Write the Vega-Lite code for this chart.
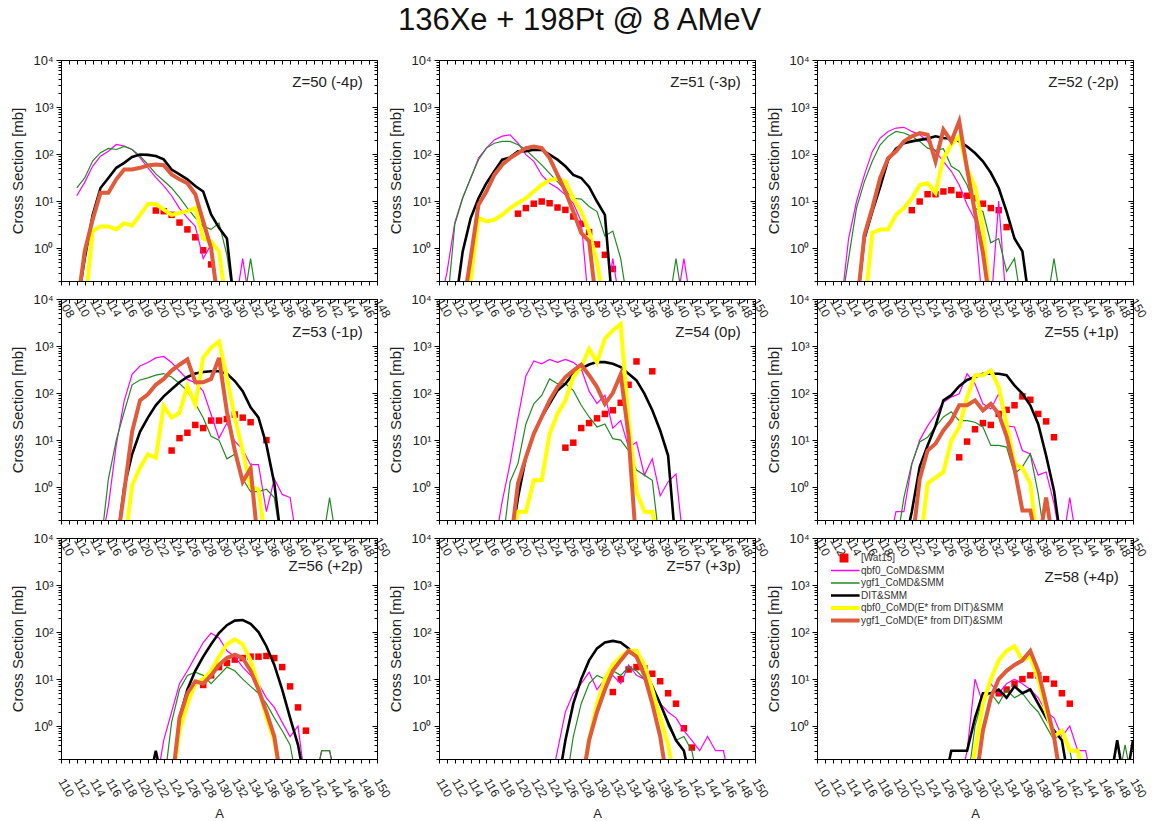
{
"$schema":"https://vega.github.io/schema/vega-lite/v6.json",
"padding":{"left":10,"top":4,"right":5,"bottom":5},
"background":"white",
"title":{"text":"136Xe + 198Pt @ 8 AMeV","fontSize":31,"fontWeight":"normal","color":"#111","anchor":"middle","offset":17},
"datasets":{
"p50":[
{"s":"M","A":110,"v":13},{"s":"M","A":111,"v":25},{"s":"M","A":112,"v":55},{"s":"M","A":113,"v":90},{"s":"M","A":114,"v":115},{"s":"M","A":115,"v":160},{"s":"M","A":116,"v":148},{"s":"M","A":117,"v":125},{"s":"M","A":118,"v":84},{"s":"M","A":119,"v":51},{"s":"M","A":120,"v":32},{"s":"M","A":121,"v":21},{"s":"M","A":122,"v":13},{"s":"M","A":123,"v":7},{"s":"M","A":124,"v":4.4},{"s":"M","A":125,"v":2.9},{"s":"M","A":126,"v":0.6},{"s":"M","A":127,"v":1.2},{"s":"M","A":128,"v":0.05},{"s":"M","A":130,"v":0.05},{"s":"M","A":131,"v":0.6},{"s":"M","A":132,"v":0.05},
{"s":"G","A":110,"v":19},{"s":"G","A":111,"v":31},{"s":"G","A":112,"v":71},{"s":"G","A":113,"v":107},{"s":"G","A":114,"v":132},{"s":"G","A":115,"v":125},{"s":"G","A":116,"v":145},{"s":"G","A":117,"v":125},{"s":"G","A":118,"v":91},{"s":"G","A":119,"v":60},{"s":"G","A":120,"v":38},{"s":"G","A":121,"v":27},{"s":"G","A":122,"v":19},{"s":"G","A":123,"v":12},{"s":"G","A":124,"v":7.1},{"s":"G","A":125,"v":4.4},{"s":"G","A":126,"v":2.9},{"s":"G","A":127,"v":2.5},{"s":"G","A":128,"v":3.4},{"s":"G","A":129,"v":0.72},{"s":"G","A":130,"v":0.05},{"s":"G","A":131,"v":0.05},{"s":"G","A":132,"v":0.6},{"s":"G","A":133,"v":0.05},
{"s":"D","A":110,"v":0.05},{"s":"D","A":111,"v":0.6},{"s":"D","A":112,"v":5},{"s":"D","A":113,"v":19},{"s":"D","A":114,"v":31},{"s":"D","A":115,"v":51},{"s":"D","A":116,"v":65},{"s":"D","A":117,"v":87},{"s":"D","A":118,"v":98},{"s":"D","A":119,"v":96},{"s":"D","A":120,"v":91},{"s":"D","A":121,"v":77},{"s":"D","A":122,"v":47},{"s":"D","A":123,"v":37},{"s":"D","A":124,"v":29},{"s":"D","A":125,"v":21},{"s":"D","A":126,"v":16},{"s":"D","A":127,"v":5.2},{"s":"D","A":128,"v":2.7},{"s":"D","A":129,"v":1.6},{"s":"D","A":130,"v":0.05},
{"s":"Y","A":111,"v":0.05},{"s":"Y","A":112,"v":2.3},{"s":"Y","A":113,"v":2.9},{"s":"Y","A":114,"v":2.9},{"s":"Y","A":115,"v":2.5},{"s":"Y","A":116,"v":3.4},{"s":"Y","A":117,"v":3},{"s":"Y","A":118,"v":5.1},{"s":"Y","A":119,"v":8.7},{"s":"Y","A":120,"v":8.7},{"s":"Y","A":121,"v":6.6},{"s":"Y","A":122,"v":5.1},{"s":"Y","A":123,"v":5.6},{"s":"Y","A":124,"v":6.1},{"s":"Y","A":125,"v":7.1},{"s":"Y","A":126,"v":1.6},{"s":"Y","A":127,"v":1.4},{"s":"Y","A":128,"v":0.85},{"s":"Y","A":129,"v":0.05},
{"s":"O","A":110,"v":0.05},{"s":"O","A":111,"v":0.85},{"s":"O","A":112,"v":4},{"s":"O","A":113,"v":15},{"s":"O","A":114,"v":15},{"s":"O","A":115,"v":29},{"s":"O","A":116,"v":47},{"s":"O","A":117,"v":47},{"s":"O","A":118,"v":51},{"s":"O","A":119,"v":57},{"s":"O","A":120,"v":60},{"s":"O","A":121,"v":58},{"s":"O","A":122,"v":37},{"s":"O","A":123,"v":29},{"s":"O","A":124,"v":24},{"s":"O","A":125,"v":14},{"s":"O","A":126,"v":3.7},{"s":"O","A":127,"v":1},{"s":"O","A":128,"v":0.05},
{"s":"W","A":120,"v":6.3},{"s":"W","A":121,"v":6.1},{"s":"W","A":122,"v":5.1},{"s":"W","A":123,"v":3.5},{"s":"W","A":124,"v":2.5},{"s":"W","A":125,"v":1.7},{"s":"W","A":126,"v":0.9},{"s":"W","A":127,"v":0.45}
],
"p51":[
{"s":"M","A":110,"v":0.05},{"s":"M","A":111,"v":0.3},{"s":"M","A":112,"v":3.5},{"s":"M","A":113,"v":12},{"s":"M","A":114,"v":30},{"s":"M","A":115,"v":82},{"s":"M","A":116,"v":134},{"s":"M","A":117,"v":200},{"s":"M","A":118,"v":240},{"s":"M","A":119,"v":257},{"s":"M","A":120,"v":170},{"s":"M","A":121,"v":97},{"s":"M","A":122,"v":70},{"s":"M","A":123,"v":36},{"s":"M","A":124,"v":24},{"s":"M","A":125,"v":19},{"s":"M","A":126,"v":13.6},{"s":"M","A":127,"v":9},{"s":"M","A":128,"v":3.7},{"s":"M","A":129,"v":0.05},{"s":"M","A":131,"v":0.05},{"s":"M","A":132,"v":0.6},{"s":"M","A":133,"v":0.05},{"s":"M","A":140,"v":0.05},{"s":"M","A":141,"v":0.6},{"s":"M","A":142,"v":0.05},
{"s":"G","A":111,"v":0.05},{"s":"G","A":112,"v":3.2},{"s":"G","A":113,"v":11.5},{"s":"G","A":114,"v":31},{"s":"G","A":115,"v":76},{"s":"G","A":116,"v":134},{"s":"G","A":117,"v":170},{"s":"G","A":118,"v":186},{"s":"G","A":119,"v":186},{"s":"G","A":120,"v":158},{"s":"G","A":121,"v":123},{"s":"G","A":122,"v":85},{"s":"G","A":123,"v":59},{"s":"G","A":124,"v":39},{"s":"G","A":125,"v":26},{"s":"G","A":126,"v":17},{"s":"G","A":127,"v":11.5},{"s":"G","A":128,"v":11},{"s":"G","A":129,"v":7.7},{"s":"G","A":130,"v":6},{"s":"G","A":131,"v":1.8},{"s":"G","A":132,"v":2.3},{"s":"G","A":133,"v":0.6},{"s":"G","A":134,"v":0.05},{"s":"G","A":139,"v":0.05},{"s":"G","A":140,"v":0.6},{"s":"G","A":141,"v":0.05},
{"s":"D","A":112,"v":0.05},{"s":"D","A":113,"v":0.85},{"s":"D","A":114,"v":4.3},{"s":"D","A":115,"v":11.5},{"s":"D","A":116,"v":24},{"s":"D","A":117,"v":43},{"s":"D","A":118,"v":76},{"s":"D","A":119,"v":85},{"s":"D","A":120,"v":115},{"s":"D","A":121,"v":115},{"s":"D","A":122,"v":123},{"s":"D","A":123,"v":123},{"s":"D","A":124,"v":97},{"s":"D","A":125,"v":76},{"s":"D","A":126,"v":55},{"s":"D","A":127,"v":36},{"s":"D","A":128,"v":31},{"s":"D","A":129,"v":20},{"s":"D","A":130,"v":9.8},{"s":"D","A":131,"v":5.1},{"s":"D","A":132,"v":0.05},
{"s":"Y","A":113,"v":0.05},{"s":"Y","A":114,"v":0.2},{"s":"Y","A":115,"v":4.4},{"s":"Y","A":116,"v":3.7},{"s":"Y","A":117,"v":4},{"s":"Y","A":118,"v":5.1},{"s":"Y","A":119,"v":7.1},{"s":"Y","A":120,"v":9.1},{"s":"Y","A":121,"v":11.5},{"s":"Y","A":122,"v":16},{"s":"Y","A":123,"v":22},{"s":"Y","A":124,"v":28},{"s":"Y","A":125,"v":30},{"s":"Y","A":126,"v":26},{"s":"Y","A":127,"v":11.5},{"s":"Y","A":128,"v":6},{"s":"Y","A":129,"v":2.3},{"s":"Y","A":130,"v":0.5},{"s":"Y","A":131,"v":0.05},
{"s":"O","A":113,"v":0.05},{"s":"O","A":114,"v":0.6},{"s":"O","A":115,"v":8.4},{"s":"O","A":116,"v":16},{"s":"O","A":117,"v":36},{"s":"O","A":118,"v":59},{"s":"O","A":119,"v":82},{"s":"O","A":120,"v":105},{"s":"O","A":121,"v":134},{"s":"O","A":122,"v":145},{"s":"O","A":123,"v":134},{"s":"O","A":124,"v":82},{"s":"O","A":125,"v":36},{"s":"O","A":126,"v":16},{"s":"O","A":127,"v":6},{"s":"O","A":128,"v":2.1},{"s":"O","A":129,"v":1.4},{"s":"O","A":130,"v":0.05},
{"s":"W","A":120,"v":5.4},{"s":"W","A":121,"v":7.1},{"s":"W","A":122,"v":8.8},{"s":"W","A":123,"v":9.8},{"s":"W","A":124,"v":9},{"s":"W","A":125,"v":7.3},{"s":"W","A":126,"v":6.5},{"s":"W","A":127,"v":4.7},{"s":"W","A":128,"v":3.3},{"s":"W","A":129,"v":2.2},{"s":"W","A":130,"v":1.2},{"s":"W","A":131,"v":0.72},{"s":"W","A":132,"v":0.36}
],
"p52":[
{"s":"M","A":113,"v":0.05},{"s":"M","A":114,"v":1.6},{"s":"M","A":115,"v":9.8},{"s":"M","A":116,"v":36},{"s":"M","A":117,"v":114},{"s":"M","A":118,"v":219},{"s":"M","A":119,"v":303},{"s":"M","A":120,"v":357},{"s":"M","A":121,"v":370},{"s":"M","A":122,"v":303},{"s":"M","A":123,"v":257},{"s":"M","A":124,"v":186},{"s":"M","A":125,"v":114},{"s":"M","A":126,"v":70},{"s":"M","A":127,"v":43},{"s":"M","A":128,"v":22},{"s":"M","A":129,"v":8.4},{"s":"M","A":130,"v":4},{"s":"M","A":131,"v":0.05},{"s":"M","A":132,"v":0.05},{"s":"M","A":133,"v":10},{"s":"M","A":134,"v":0.05},
{"s":"G","A":113,"v":0.05},{"s":"G","A":114,"v":0.6},{"s":"G","A":115,"v":7.1},{"s":"G","A":116,"v":26},{"s":"G","A":117,"v":70},{"s":"G","A":118,"v":158},{"s":"G","A":119,"v":238},{"s":"G","A":120,"v":303},{"s":"G","A":121,"v":280},{"s":"G","A":122,"v":238},{"s":"G","A":123,"v":186},{"s":"G","A":124,"v":134},{"s":"G","A":125,"v":120},{"s":"G","A":126,"v":130},{"s":"G","A":127,"v":55},{"s":"G","A":128,"v":43},{"s":"G","A":129,"v":22},{"s":"G","A":130,"v":7},{"s":"G","A":131,"v":6},{"s":"G","A":132,"v":1.3},{"s":"G","A":133,"v":1.6},{"s":"G","A":134,"v":0.32},{"s":"G","A":135,"v":0.6},{"s":"G","A":136,"v":0.05},{"s":"G","A":139,"v":0.05},{"s":"G","A":140,"v":0.6},{"s":"G","A":141,"v":0.05},
{"s":"D","A":115,"v":0.05},{"s":"D","A":116,"v":1.6},{"s":"D","A":117,"v":6},{"s":"D","A":118,"v":20},{"s":"D","A":119,"v":75},{"s":"D","A":120,"v":130},{"s":"D","A":121,"v":170},{"s":"D","A":122,"v":186},{"s":"D","A":123,"v":200},{"s":"D","A":124,"v":213},{"s":"D","A":125,"v":238},{"s":"D","A":126,"v":219},{"s":"D","A":127,"v":213},{"s":"D","A":128,"v":186},{"s":"D","A":129,"v":145},{"s":"D","A":130,"v":105},{"s":"D","A":131,"v":70},{"s":"D","A":132,"v":40},{"s":"D","A":133,"v":19},{"s":"D","A":134,"v":6},{"s":"D","A":135,"v":1.6},{"s":"D","A":136,"v":0.85},{"s":"D","A":137,"v":0.05},
{"s":"Y","A":116,"v":0.05},{"s":"Y","A":117,"v":2.1},{"s":"Y","A":118,"v":2.5},{"s":"Y","A":119,"v":2.5},{"s":"Y","A":120,"v":5.1},{"s":"Y","A":121,"v":7.1},{"s":"Y","A":122,"v":11.5},{"s":"Y","A":123,"v":22},{"s":"Y","A":124,"v":24},{"s":"Y","A":125,"v":15},{"s":"Y","A":126,"v":82},{"s":"Y","A":127,"v":158},{"s":"Y","A":128,"v":238},{"s":"Y","A":129,"v":50},{"s":"Y","A":130,"v":20},{"s":"Y","A":131,"v":2.7},{"s":"Y","A":132,"v":0.05},
{"s":"O","A":115,"v":0.05},{"s":"O","A":116,"v":1.9},{"s":"O","A":117,"v":7.1},{"s":"O","A":118,"v":31},{"s":"O","A":119,"v":82},{"s":"O","A":120,"v":114},{"s":"O","A":121,"v":186},{"s":"O","A":122,"v":238},{"s":"O","A":123,"v":280},{"s":"O","A":124,"v":257},{"s":"O","A":125,"v":70},{"s":"O","A":126,"v":330},{"s":"O","A":127,"v":186},{"s":"O","A":128,"v":500},{"s":"O","A":129,"v":48},{"s":"O","A":130,"v":5.7},{"s":"O","A":131,"v":0.8},{"s":"O","A":132,"v":0.05},
{"s":"W","A":122,"v":6.4},{"s":"W","A":123,"v":9.8},{"s":"W","A":124,"v":14},{"s":"W","A":125,"v":14},{"s":"W","A":126,"v":16},{"s":"W","A":127,"v":17},{"s":"W","A":128,"v":13.6},{"s":"W","A":129,"v":13},{"s":"W","A":130,"v":11.5},{"s":"W","A":131,"v":8.8},{"s":"W","A":132,"v":7.1},{"s":"W","A":133,"v":6.4},{"s":"W","A":134,"v":2.8}
],
"p53":[
{"s":"M","A":115,"v":0.05},{"s":"M","A":116,"v":0.4},{"s":"M","A":117,"v":8},{"s":"M","A":118,"v":68},{"s":"M","A":119,"v":250},{"s":"M","A":120,"v":375},{"s":"M","A":121,"v":445},{"s":"M","A":122,"v":560},{"s":"M","A":123,"v":600},{"s":"M","A":124,"v":445},{"s":"M","A":125,"v":295},{"s":"M","A":126,"v":195},{"s":"M","A":127,"v":166},{"s":"M","A":128,"v":110},{"s":"M","A":129,"v":35},{"s":"M","A":130,"v":11},{"s":"M","A":131,"v":23},{"s":"M","A":132,"v":9.5},{"s":"M","A":133,"v":6.3},{"s":"M","A":134,"v":3},{"s":"M","A":135,"v":3},{"s":"M","A":136,"v":0.3},{"s":"M","A":137,"v":1.5},{"s":"M","A":138,"v":0.7},{"s":"M","A":139,"v":0.6},{"s":"M","A":140,"v":0.05},
{"s":"G","A":115,"v":0.05},{"s":"G","A":116,"v":1.5},{"s":"G","A":117,"v":10},{"s":"G","A":118,"v":40},{"s":"G","A":119,"v":150},{"s":"G","A":120,"v":190},{"s":"G","A":121,"v":210},{"s":"G","A":122,"v":240},{"s":"G","A":123,"v":260},{"s":"G","A":124,"v":220},{"s":"G","A":125,"v":160},{"s":"G","A":126,"v":110},{"s":"G","A":127,"v":60},{"s":"G","A":128,"v":30},{"s":"G","A":129,"v":12},{"s":"G","A":130,"v":10},{"s":"G","A":131,"v":4},{"s":"G","A":132,"v":5},{"s":"G","A":133,"v":1.5},{"s":"G","A":134,"v":0.8},{"s":"G","A":135,"v":0.8},{"s":"G","A":136,"v":0.9},{"s":"G","A":137,"v":0.6},{"s":"G","A":138,"v":0.05},{"s":"G","A":143,"v":0.05},{"s":"G","A":144,"v":0.6},{"s":"G","A":145,"v":0.05},
{"s":"D","A":117,"v":0.05},{"s":"D","A":118,"v":1},{"s":"D","A":119,"v":5},{"s":"D","A":120,"v":15},{"s":"D","A":121,"v":30},{"s":"D","A":122,"v":55},{"s":"D","A":123,"v":85},{"s":"D","A":124,"v":120},{"s":"D","A":125,"v":170},{"s":"D","A":126,"v":220},{"s":"D","A":127,"v":260},{"s":"D","A":128,"v":280},{"s":"D","A":129,"v":290},{"s":"D","A":130,"v":290},{"s":"D","A":131,"v":260},{"s":"D","A":132,"v":180},{"s":"D","A":133,"v":110},{"s":"D","A":134,"v":50},{"s":"D","A":135,"v":30},{"s":"D","A":136,"v":8},{"s":"D","A":137,"v":1.2},{"s":"D","A":138,"v":0.05},
{"s":"Y","A":118,"v":0.05},{"s":"Y","A":119,"v":1.1},{"s":"Y","A":120,"v":2.6},{"s":"Y","A":121,"v":5},{"s":"Y","A":122,"v":4.2},{"s":"Y","A":123,"v":53},{"s":"Y","A":124,"v":30},{"s":"Y","A":125,"v":38},{"s":"Y","A":126,"v":140},{"s":"Y","A":127,"v":57},{"s":"Y","A":128,"v":565},{"s":"Y","A":129,"v":920},{"s":"Y","A":130,"v":1260},{"s":"Y","A":131,"v":210},{"s":"Y","A":132,"v":30},{"s":"Y","A":133,"v":5.8},{"s":"Y","A":134,"v":1},{"s":"Y","A":135,"v":0.9},{"s":"Y","A":136,"v":0.05},
{"s":"O","A":117,"v":0.05},{"s":"O","A":118,"v":0.8},{"s":"O","A":119,"v":15},{"s":"O","A":120,"v":70},{"s":"O","A":121,"v":94},{"s":"O","A":122,"v":150},{"s":"O","A":123,"v":200},{"s":"O","A":124,"v":300},{"s":"O","A":125,"v":400},{"s":"O","A":126,"v":520},{"s":"O","A":127,"v":170},{"s":"O","A":128,"v":170},{"s":"O","A":129,"v":200},{"s":"O","A":130,"v":560},{"s":"O","A":131,"v":40},{"s":"O","A":132,"v":6},{"s":"O","A":133,"v":1.3},{"s":"O","A":134,"v":2.5},{"s":"O","A":135,"v":0.05},
{"s":"W","A":124,"v":6},{"s":"W","A":125,"v":11},{"s":"W","A":126,"v":14.3},{"s":"W","A":127,"v":21},{"s":"W","A":128,"v":18},{"s":"W","A":129,"v":26},{"s":"W","A":130,"v":26},{"s":"W","A":131,"v":28},{"s":"W","A":132,"v":35},{"s":"W","A":133,"v":30},{"s":"W","A":134,"v":24},{"s":"W","A":136,"v":10}
],
"p54":[
{"s":"M","A":117,"v":0.05},{"s":"M","A":118,"v":0.5},{"s":"M","A":119,"v":3.2},{"s":"M","A":120,"v":30},{"s":"M","A":121,"v":230},{"s":"M","A":122,"v":480},{"s":"M","A":123,"v":420},{"s":"M","A":124,"v":520},{"s":"M","A":125,"v":450},{"s":"M","A":126,"v":520},{"s":"M","A":127,"v":450},{"s":"M","A":128,"v":330},{"s":"M","A":129,"v":110},{"s":"M","A":130,"v":60},{"s":"M","A":131,"v":90},{"s":"M","A":132,"v":18},{"s":"M","A":133,"v":26},{"s":"M","A":134,"v":7},{"s":"M","A":135,"v":9},{"s":"M","A":136,"v":1.8},{"s":"M","A":137,"v":4},{"s":"M","A":138,"v":0.65},{"s":"M","A":139,"v":1.3},{"s":"M","A":140,"v":1.9},{"s":"M","A":141,"v":0.05},
{"s":"G","A":118,"v":0.05},{"s":"G","A":119,"v":1.3},{"s":"G","A":120,"v":3.2},{"s":"G","A":121,"v":22},{"s":"G","A":122,"v":59},{"s":"G","A":123,"v":89},{"s":"G","A":124,"v":200},{"s":"G","A":125,"v":158},{"s":"G","A":126,"v":158},{"s":"G","A":127,"v":114},{"s":"G","A":128,"v":55},{"s":"G","A":129,"v":31},{"s":"G","A":130,"v":19},{"s":"G","A":131,"v":22},{"s":"G","A":132,"v":10.7},{"s":"G","A":133,"v":10},{"s":"G","A":134,"v":6},{"s":"G","A":135,"v":2.3},{"s":"G","A":136,"v":1.8},{"s":"G","A":137,"v":1.4},{"s":"G","A":138,"v":0.05},
{"s":"D","A":119,"v":0.05},{"s":"D","A":120,"v":0.6},{"s":"D","A":121,"v":4.3},{"s":"D","A":122,"v":13.6},{"s":"D","A":123,"v":31},{"s":"D","A":124,"v":59},{"s":"D","A":125,"v":114},{"s":"D","A":126,"v":158},{"s":"D","A":127,"v":257},{"s":"D","A":128,"v":330},{"s":"D","A":129,"v":405},{"s":"D","A":130,"v":455},{"s":"D","A":131,"v":455},{"s":"D","A":132,"v":420},{"s":"D","A":133,"v":357},{"s":"D","A":134,"v":257},{"s":"D","A":135,"v":186},{"s":"D","A":136,"v":97},{"s":"D","A":137,"v":43},{"s":"D","A":138,"v":16},{"s":"D","A":139,"v":4.7},{"s":"D","A":140,"v":0.05},
{"s":"Y","A":119,"v":0.05},{"s":"Y","A":120,"v":0.3},{"s":"Y","A":121,"v":0.3},{"s":"Y","A":122,"v":1.4},{"s":"Y","A":123,"v":1.4},{"s":"Y","A":124,"v":13.6},{"s":"Y","A":125,"v":36},{"s":"Y","A":126,"v":70},{"s":"Y","A":127,"v":219},{"s":"Y","A":128,"v":357},{"s":"Y","A":129,"v":870},{"s":"Y","A":130,"v":450},{"s":"Y","A":131,"v":1440},{"s":"Y","A":132,"v":2150},{"s":"Y","A":133,"v":2960},{"s":"Y","A":134,"v":25},{"s":"Y","A":135,"v":0.8},{"s":"Y","A":136,"v":0.3},{"s":"Y","A":137,"v":0.3},{"s":"Y","A":138,"v":0.05},
{"s":"O","A":119,"v":0.05},{"s":"O","A":120,"v":1.2},{"s":"O","A":121,"v":4.3},{"s":"O","A":122,"v":13.6},{"s":"O","A":123,"v":31},{"s":"O","A":124,"v":70},{"s":"O","A":125,"v":134},{"s":"O","A":126,"v":219},{"s":"O","A":127,"v":300},{"s":"O","A":128,"v":400},{"s":"O","A":129,"v":240},{"s":"O","A":130,"v":134},{"s":"O","A":131,"v":59},{"s":"O","A":132,"v":100},{"s":"O","A":133,"v":250},{"s":"O","A":134,"v":12},{"s":"O","A":135,"v":0.05},
{"s":"W","A":126,"v":6.9},{"s":"W","A":127,"v":8.8},{"s":"W","A":128,"v":18},{"s":"W","A":129,"v":23},{"s":"W","A":130,"v":29},{"s":"W","A":131,"v":36},{"s":"W","A":132,"v":43},{"s":"W","A":133,"v":62},{"s":"W","A":134,"v":150},{"s":"W","A":135,"v":470},{"s":"W","A":137,"v":290}
],
"p55":[
{"s":"M","A":119,"v":0.05},{"s":"M","A":120,"v":0.3},{"s":"M","A":121,"v":0.3},{"s":"M","A":122,"v":3},{"s":"M","A":123,"v":10},{"s":"M","A":124,"v":20},{"s":"M","A":125,"v":35},{"s":"M","A":126,"v":64},{"s":"M","A":127,"v":82},{"s":"M","A":128,"v":97},{"s":"M","A":129,"v":257},{"s":"M","A":130,"v":158},{"s":"M","A":131,"v":59},{"s":"M","A":132,"v":46},{"s":"M","A":133,"v":97},{"s":"M","A":134,"v":20},{"s":"M","A":135,"v":19},{"s":"M","A":136,"v":6},{"s":"M","A":137,"v":5.1},{"s":"M","A":138,"v":1.8},{"s":"M","A":139,"v":2.1},{"s":"M","A":140,"v":0.45},{"s":"M","A":141,"v":0.05},{"s":"M","A":142,"v":0.6},{"s":"M","A":143,"v":0.05},
{"s":"G","A":120,"v":0.05},{"s":"G","A":121,"v":0.6},{"s":"G","A":122,"v":3.2},{"s":"G","A":123,"v":9.1},{"s":"G","A":124,"v":11.5},{"s":"G","A":125,"v":19},{"s":"G","A":126,"v":31},{"s":"G","A":127,"v":40},{"s":"G","A":128,"v":26},{"s":"G","A":129,"v":26},{"s":"G","A":130,"v":24},{"s":"G","A":131,"v":19},{"s":"G","A":132,"v":7.7},{"s":"G","A":133,"v":7.7},{"s":"G","A":134,"v":7.1},{"s":"G","A":135,"v":1.9},{"s":"G","A":136,"v":2.7},{"s":"G","A":137,"v":5.1},{"s":"G","A":138,"v":0.72},{"s":"G","A":139,"v":0.05},
{"s":"D","A":121,"v":0.05},{"s":"D","A":122,"v":0.3},{"s":"D","A":123,"v":2.7},{"s":"D","A":124,"v":7.7},{"s":"D","A":125,"v":20},{"s":"D","A":126,"v":70},{"s":"D","A":127,"v":90},{"s":"D","A":128,"v":140},{"s":"D","A":129,"v":190},{"s":"D","A":130,"v":220},{"s":"D","A":131,"v":257},{"s":"D","A":132,"v":257},{"s":"D","A":133,"v":257},{"s":"D","A":134,"v":240},{"s":"D","A":135,"v":145},{"s":"D","A":136,"v":97},{"s":"D","A":137,"v":55},{"s":"D","A":138,"v":22},{"s":"D","A":139,"v":4.7},{"s":"D","A":140,"v":0.84},{"s":"D","A":141,"v":0.05},
{"s":"Y","A":123,"v":0.05},{"s":"Y","A":124,"v":1.2},{"s":"Y","A":125,"v":1.6},{"s":"Y","A":126,"v":2.1},{"s":"Y","A":127,"v":9.8},{"s":"Y","A":128,"v":19},{"s":"Y","A":129,"v":82},{"s":"Y","A":130,"v":240},{"s":"Y","A":131,"v":240},{"s":"Y","A":132,"v":300},{"s":"Y","A":133,"v":134},{"s":"Y","A":134,"v":22},{"s":"Y","A":135,"v":3.2},{"s":"Y","A":136,"v":2.5},{"s":"Y","A":137,"v":1.2},{"s":"Y","A":138,"v":0.05},
{"s":"O","A":122,"v":0.05},{"s":"O","A":123,"v":1.5},{"s":"O","A":124,"v":6},{"s":"O","A":125,"v":8.4},{"s":"O","A":126,"v":16},{"s":"O","A":127,"v":26},{"s":"O","A":128,"v":55},{"s":"O","A":129,"v":55},{"s":"O","A":130,"v":70},{"s":"O","A":131,"v":43},{"s":"O","A":132,"v":59},{"s":"O","A":133,"v":36},{"s":"O","A":134,"v":12},{"s":"O","A":135,"v":2.5},{"s":"O","A":136,"v":0.32},{"s":"O","A":137,"v":0.32},{"s":"O","A":138,"v":0.05},{"s":"O","A":139,"v":0.6},{"s":"O","A":140,"v":0.05},
{"s":"W","A":128,"v":4.3},{"s":"W","A":129,"v":9.3},{"s":"W","A":130,"v":17},{"s":"W","A":131,"v":23},{"s":"W","A":132,"v":21},{"s":"W","A":133,"v":36},{"s":"W","A":134,"v":44},{"s":"W","A":135,"v":55},{"s":"W","A":136,"v":85},{"s":"W","A":137,"v":72},{"s":"W","A":138,"v":36},{"s":"W","A":139,"v":25},{"s":"W","A":140,"v":11.5}
],
"p56":[
{"s":"M","A":122,"v":0.05},{"s":"M","A":123,"v":0.5},{"s":"M","A":124,"v":2},{"s":"M","A":125,"v":8},{"s":"M","A":126,"v":15},{"s":"M","A":127,"v":30},{"s":"M","A":128,"v":60},{"s":"M","A":129,"v":95},{"s":"M","A":130,"v":75},{"s":"M","A":131,"v":40},{"s":"M","A":132,"v":30},{"s":"M","A":133,"v":18},{"s":"M","A":134,"v":12},{"s":"M","A":135,"v":8},{"s":"M","A":136,"v":4},{"s":"M","A":137,"v":2.5},{"s":"M","A":138,"v":1.2},{"s":"M","A":139,"v":0.6},{"s":"M","A":140,"v":1},{"s":"M","A":141,"v":0.05},{"s":"M","A":142,"v":0.05},{"s":"M","A":143,"v":0.3},{"s":"M","A":144,"v":0.3},{"s":"M","A":145,"v":0.05},
{"s":"G","A":123,"v":0.05},{"s":"G","A":124,"v":1.2},{"s":"G","A":125,"v":6},{"s":"G","A":126,"v":12},{"s":"G","A":127,"v":14},{"s":"G","A":128,"v":12},{"s":"G","A":129,"v":8},{"s":"G","A":130,"v":12},{"s":"G","A":131,"v":18},{"s":"G","A":132,"v":15},{"s":"G","A":133,"v":10},{"s":"G","A":134,"v":7},{"s":"G","A":135,"v":5},{"s":"G","A":136,"v":3},{"s":"G","A":137,"v":1.5},{"s":"G","A":138,"v":0.8},{"s":"G","A":139,"v":0.4},{"s":"G","A":140,"v":0.05},{"s":"G","A":142,"v":0.05},{"s":"G","A":143,"v":0.3},{"s":"G","A":144,"v":0.3},{"s":"G","A":145,"v":0.05},
{"s":"D","A":121,"v":0.05},{"s":"D","A":122,"v":0.3},{"s":"D","A":123,"v":0.05},{"s":"D","A":124,"v":0.05},{"s":"D","A":125,"v":1.5},{"s":"D","A":126,"v":6},{"s":"D","A":127,"v":15},{"s":"D","A":128,"v":30},{"s":"D","A":129,"v":55},{"s":"D","A":130,"v":95},{"s":"D","A":131,"v":140},{"s":"D","A":132,"v":175},{"s":"D","A":133,"v":180},{"s":"D","A":134,"v":150},{"s":"D","A":135,"v":100},{"s":"D","A":136,"v":50},{"s":"D","A":137,"v":20},{"s":"D","A":138,"v":6},{"s":"D","A":139,"v":1.5},{"s":"D","A":140,"v":0.4},{"s":"D","A":141,"v":0.05},
{"s":"Y","A":124,"v":0.05},{"s":"Y","A":125,"v":0.8},{"s":"Y","A":126,"v":3},{"s":"Y","A":127,"v":8},{"s":"Y","A":128,"v":10},{"s":"Y","A":129,"v":15},{"s":"Y","A":130,"v":30},{"s":"Y","A":131,"v":55},{"s":"Y","A":132,"v":70},{"s":"Y","A":133,"v":55},{"s":"Y","A":134,"v":25},{"s":"Y","A":135,"v":7},{"s":"Y","A":136,"v":1.5},{"s":"Y","A":137,"v":0.5},{"s":"Y","A":138,"v":0.05},
{"s":"O","A":124,"v":0.05},{"s":"O","A":125,"v":1.5},{"s":"O","A":126,"v":5},{"s":"O","A":127,"v":9},{"s":"O","A":128,"v":8},{"s":"O","A":129,"v":12},{"s":"O","A":130,"v":20},{"s":"O","A":131,"v":28},{"s":"O","A":132,"v":33},{"s":"O","A":133,"v":28},{"s":"O","A":134,"v":15},{"s":"O","A":135,"v":6},{"s":"O","A":136,"v":2},{"s":"O","A":137,"v":0.6},{"s":"O","A":138,"v":0.05},
{"s":"W","A":128,"v":7.5},{"s":"W","A":129,"v":12},{"s":"W","A":130,"v":18},{"s":"W","A":131,"v":22},{"s":"W","A":132,"v":26},{"s":"W","A":133,"v":28},{"s":"W","A":134,"v":30},{"s":"W","A":135,"v":30},{"s":"W","A":136,"v":31},{"s":"W","A":137,"v":28},{"s":"W","A":138,"v":18},{"s":"W","A":139,"v":7},{"s":"W","A":140,"v":2.5},{"s":"W","A":141,"v":0.8}
],
"p57":[
{"s":"M","A":124,"v":0.05},{"s":"M","A":125,"v":0.3},{"s":"M","A":126,"v":2},{"s":"M","A":127,"v":5},{"s":"M","A":128,"v":8},{"s":"M","A":129,"v":14},{"s":"M","A":130,"v":6},{"s":"M","A":131,"v":10},{"s":"M","A":132,"v":12},{"s":"M","A":133,"v":8},{"s":"M","A":134,"v":20},{"s":"M","A":135,"v":12},{"s":"M","A":136,"v":10},{"s":"M","A":137,"v":6},{"s":"M","A":138,"v":3},{"s":"M","A":139,"v":2},{"s":"M","A":140,"v":1.5},{"s":"M","A":141,"v":0.8},{"s":"M","A":142,"v":0.5},{"s":"M","A":143,"v":0.3},{"s":"M","A":144,"v":0.6},{"s":"M","A":145,"v":0.3},{"s":"M","A":146,"v":0.3},{"s":"M","A":147,"v":0.05},
{"s":"G","A":126,"v":0.05},{"s":"G","A":127,"v":0.6},{"s":"G","A":128,"v":3},{"s":"G","A":129,"v":8},{"s":"G","A":130,"v":12},{"s":"G","A":131,"v":10},{"s":"G","A":132,"v":15},{"s":"G","A":133,"v":12},{"s":"G","A":134,"v":18},{"s":"G","A":135,"v":15},{"s":"G","A":136,"v":10},{"s":"G","A":137,"v":6},{"s":"G","A":138,"v":3},{"s":"G","A":139,"v":1},{"s":"G","A":140,"v":0.5},{"s":"G","A":141,"v":0.6},{"s":"G","A":142,"v":0.3},{"s":"G","A":143,"v":0.05},
{"s":"D","A":125,"v":0.05},{"s":"D","A":126,"v":0.5},{"s":"D","A":127,"v":3},{"s":"D","A":128,"v":10},{"s":"D","A":129,"v":25},{"s":"D","A":130,"v":45},{"s":"D","A":131,"v":60},{"s":"D","A":132,"v":65},{"s":"D","A":133,"v":60},{"s":"D","A":134,"v":45},{"s":"D","A":135,"v":30},{"s":"D","A":136,"v":15},{"s":"D","A":137,"v":7},{"s":"D","A":138,"v":3},{"s":"D","A":139,"v":1.2},{"s":"D","A":140,"v":0.5},{"s":"D","A":141,"v":0.3},{"s":"D","A":142,"v":0.05},
{"s":"Y","A":128,"v":0.05},{"s":"Y","A":129,"v":0.5},{"s":"Y","A":130,"v":3},{"s":"Y","A":131,"v":10},{"s":"Y","A":132,"v":20},{"s":"Y","A":133,"v":30},{"s":"Y","A":134,"v":40},{"s":"Y","A":135,"v":40},{"s":"Y","A":136,"v":20},{"s":"Y","A":137,"v":6},{"s":"Y","A":138,"v":1.5},{"s":"Y","A":139,"v":0.4},{"s":"Y","A":140,"v":0.05},
{"s":"O","A":128,"v":0.05},{"s":"O","A":129,"v":0.5},{"s":"O","A":130,"v":2},{"s":"O","A":131,"v":6},{"s":"O","A":132,"v":15},{"s":"O","A":133,"v":25},{"s":"O","A":134,"v":40},{"s":"O","A":135,"v":30},{"s":"O","A":136,"v":12},{"s":"O","A":137,"v":3},{"s":"O","A":138,"v":0.6},{"s":"O","A":139,"v":0.05},
{"s":"W","A":132,"v":5.3},{"s":"W","A":133,"v":10},{"s":"W","A":134,"v":16},{"s":"W","A":135,"v":18},{"s":"W","A":136,"v":17},{"s":"W","A":137,"v":13},{"s":"W","A":138,"v":9},{"s":"W","A":139,"v":5},{"s":"W","A":140,"v":3},{"s":"W","A":141,"v":0.9},{"s":"W","A":142,"v":0.35}
],
"p58":[
{"s":"M","A":128,"v":0.05},{"s":"M","A":129,"v":0.3},{"s":"M","A":130,"v":10},{"s":"M","A":131,"v":3},{"s":"M","A":132,"v":8},{"s":"M","A":133,"v":5},{"s":"M","A":134,"v":8},{"s":"M","A":135,"v":10},{"s":"M","A":136,"v":8},{"s":"M","A":137,"v":6},{"s":"M","A":138,"v":4},{"s":"M","A":139,"v":2},{"s":"M","A":140,"v":1.5},{"s":"M","A":141,"v":0.6},{"s":"M","A":142,"v":1},{"s":"M","A":143,"v":0.3},{"s":"M","A":144,"v":0.3},{"s":"M","A":145,"v":0.05},
{"s":"G","A":129,"v":0.05},{"s":"G","A":130,"v":1},{"s":"G","A":131,"v":4},{"s":"G","A":132,"v":5},{"s":"G","A":133,"v":3},{"s":"G","A":134,"v":6},{"s":"G","A":135,"v":4},{"s":"G","A":136,"v":5},{"s":"G","A":137,"v":3},{"s":"G","A":138,"v":2},{"s":"G","A":139,"v":1},{"s":"G","A":140,"v":0.5},{"s":"G","A":141,"v":0.8},{"s":"G","A":142,"v":0.3},{"s":"G","A":143,"v":0.05},{"s":"G","A":148,"v":0.05},{"s":"G","A":149,"v":0.4},{"s":"G","A":150,"v":0.05},
{"s":"D","A":126,"v":0.05},{"s":"D","A":127,"v":0.3},{"s":"D","A":128,"v":0.3},{"s":"D","A":129,"v":0.3},{"s":"D","A":130,"v":1.5},{"s":"D","A":131,"v":5},{"s":"D","A":132,"v":5},{"s":"D","A":133,"v":6},{"s":"D","A":134,"v":4},{"s":"D","A":135,"v":7},{"s":"D","A":136,"v":5},{"s":"D","A":137,"v":6},{"s":"D","A":138,"v":3},{"s":"D","A":139,"v":1.5},{"s":"D","A":140,"v":0.8},{"s":"D","A":141,"v":0.5},{"s":"D","A":142,"v":0.05},{"s":"D","A":147,"v":0.05},{"s":"D","A":148,"v":0.5},{"s":"D","A":149,"v":0.05},{"s":"D","A":150,"v":0.5},
{"s":"Y","A":129,"v":0.05},{"s":"Y","A":130,"v":0.3},{"s":"Y","A":131,"v":3},{"s":"Y","A":132,"v":10},{"s":"Y","A":133,"v":25},{"s":"Y","A":134,"v":40},{"s":"Y","A":135,"v":50},{"s":"Y","A":136,"v":25},{"s":"Y","A":137,"v":30},{"s":"Y","A":138,"v":10},{"s":"Y","A":139,"v":2},{"s":"Y","A":140,"v":0.6},{"s":"Y","A":141,"v":0.8},{"s":"Y","A":142,"v":0.3},{"s":"Y","A":143,"v":0.3},{"s":"Y","A":144,"v":0.05},
{"s":"O","A":130,"v":0.05},{"s":"O","A":131,"v":0.8},{"s":"O","A":132,"v":4},{"s":"O","A":133,"v":10},{"s":"O","A":134,"v":15},{"s":"O","A":135,"v":20},{"s":"O","A":136,"v":25},{"s":"O","A":137,"v":40},{"s":"O","A":138,"v":15},{"s":"O","A":139,"v":3},{"s":"O","A":140,"v":0.6},{"s":"O","A":141,"v":0.05},
{"s":"W","A":133,"v":5},{"s":"W","A":134,"v":6},{"s":"W","A":135,"v":8},{"s":"W","A":136,"v":10},{"s":"W","A":137,"v":12},{"s":"W","A":138,"v":12},{"s":"W","A":139,"v":10},{"s":"W","A":140,"v":8},{"s":"W","A":141,"v":5},{"s":"W","A":142,"v":3}
]
},
"columns":3,
"spacing":{"row":18,"column":62},
"bounds":"flush",
"concat":[
{"width":316,"height":221,"data":{"name":"p50"},
 "layer":[
  {"transform":[{"filter":"datum.s == 'W'"}],"mark":{"type":"point","shape":"square","filled":true,"size":42,"opacity":1,"clip":true},
   "encoding":{
    "x":{"field":"A","type":"quantitative","scale":{"domain":[108,148],"nice":false,"zero":false},"axis":{"title":null,"tickCount":40,"labelExpr":"datum.value % 2 == 0 ? datum.label : ''","labelAngle":60,"labelAlign":"left","labelBaseline":"middle","labelFontSize":12,"labelPadding":14,"labelOverlap":false,"labelFlush":false,"labelBound":false,"tickSize":4}},
    "y":{"field":"v","type":"quantitative","scale":{"type":"log","domain":[0.2,10000],"nice":false},"axis":{"title":"Cross Section [mb]","titleFontSize":15,"titlePadding":7,"tickCount":10,"labelExpr":"datum.value == 1 ? '10⁰' : datum.value == 10 ? '10¹' : datum.value == 100 ? '10²' : datum.value == 1000 ? '10³' : datum.value == 10000 ? '10⁴' : ''","labelFontSize":13,"labelOverlap":false,"labelFlush":false,"labelPadding":3,"tickSize":{"condition":{"test":"indexof([1,10,100,1000,10000], datum.value) >= 0","value":5},"value":3}}},
    "color":{"field":"s","type":"nominal","scale":{"domain":["W","M","G","D","Y","O"],"range":["#ff0000","#ff00ff","#228b22","#000000","#ffff00","#e05a3c"]},"legend":null}}},
  {"transform":[{"filter":"datum.s != 'W'"}],"mark":{"type":"line","clip":true},
   "encoding":{
    "x":{"field":"A","type":"quantitative","axis":{"orient":"top","title":null,"labels":false,"tickCount":40,"tickSize":-4,"domain":false}},
    "y":{"field":"v","type":"quantitative","axis":{"orient":"right","title":null,"labels":false,"tickCount":10,"domain":false,"tickSize":{"condition":{"test":"indexof([1,10,100,1000,10000], datum.value) >= 0","value":-5},"value":-3}}},
    "color":{"field":"s","type":"nominal","legend":null},
    "strokeWidth":{"condition":[{"test":"datum.s == 'Y' || datum.s == 'O'","value":4},{"test":"datum.s == 'D'","value":2.6}],"value":1.2}}},
  {"data":{"values":[{}]},"mark":{"type":"text","align":"right","baseline":"middle","fontSize":15,"color":"#222"},
   "encoding":{"x":{"datum":146.2,"type":"quantitative","axis":null},"y":{"datum":3400,"type":"quantitative","axis":null},"text":{"value":"Z=50 (-4p)"}}}
 ],
 "resolve":{"axis":{"x":"independent","y":"independent"}}},
{"width":316,"height":221,"data":{"name":"p51"},
 "layer":[
  {"transform":[{"filter":"datum.s == 'W'"}],"mark":{"type":"point","shape":"square","filled":true,"size":42,"opacity":1,"clip":true},
   "encoding":{
    "x":{"field":"A","type":"quantitative","scale":{"domain":[110,150],"nice":false,"zero":false},"axis":{"title":null,"tickCount":40,"labelExpr":"datum.value % 2 == 0 ? datum.label : ''","labelAngle":60,"labelAlign":"left","labelBaseline":"middle","labelFontSize":12,"labelPadding":14,"labelOverlap":false,"labelFlush":false,"labelBound":false,"tickSize":4}},
    "y":{"field":"v","type":"quantitative","scale":{"type":"log","domain":[0.2,10000],"nice":false},"axis":{"title":"Cross Section [mb]","titleFontSize":15,"titlePadding":7,"tickCount":10,"labelExpr":"datum.value == 1 ? '10⁰' : datum.value == 10 ? '10¹' : datum.value == 100 ? '10²' : datum.value == 1000 ? '10³' : datum.value == 10000 ? '10⁴' : ''","labelFontSize":13,"labelOverlap":false,"labelFlush":false,"labelPadding":3,"tickSize":{"condition":{"test":"indexof([1,10,100,1000,10000], datum.value) >= 0","value":5},"value":3}}},
    "color":{"field":"s","type":"nominal","scale":{"domain":["W","M","G","D","Y","O"],"range":["#ff0000","#ff00ff","#228b22","#000000","#ffff00","#e05a3c"]},"legend":null}}},
  {"transform":[{"filter":"datum.s != 'W'"}],"mark":{"type":"line","clip":true},
   "encoding":{
    "x":{"field":"A","type":"quantitative","axis":{"orient":"top","title":null,"labels":false,"tickCount":40,"tickSize":-4,"domain":false}},
    "y":{"field":"v","type":"quantitative","axis":{"orient":"right","title":null,"labels":false,"tickCount":10,"domain":false,"tickSize":{"condition":{"test":"indexof([1,10,100,1000,10000], datum.value) >= 0","value":-5},"value":-3}}},
    "color":{"field":"s","type":"nominal","legend":null},
    "strokeWidth":{"condition":[{"test":"datum.s == 'Y' || datum.s == 'O'","value":4},{"test":"datum.s == 'D'","value":2.6}],"value":1.2}}},
  {"data":{"values":[{}]},"mark":{"type":"text","align":"right","baseline":"middle","fontSize":15,"color":"#222"},
   "encoding":{"x":{"datum":148.2,"type":"quantitative","axis":null},"y":{"datum":3400,"type":"quantitative","axis":null},"text":{"value":"Z=51 (-3p)"}}}
 ],
 "resolve":{"axis":{"x":"independent","y":"independent"}}},
{"width":316,"height":221,"data":{"name":"p52"},
 "layer":[
  {"transform":[{"filter":"datum.s == 'W'"}],"mark":{"type":"point","shape":"square","filled":true,"size":42,"opacity":1,"clip":true},
   "encoding":{
    "x":{"field":"A","type":"quantitative","scale":{"domain":[110,150],"nice":false,"zero":false},"axis":{"title":null,"tickCount":40,"labelExpr":"datum.value % 2 == 0 ? datum.label : ''","labelAngle":60,"labelAlign":"left","labelBaseline":"middle","labelFontSize":12,"labelPadding":14,"labelOverlap":false,"labelFlush":false,"labelBound":false,"tickSize":4}},
    "y":{"field":"v","type":"quantitative","scale":{"type":"log","domain":[0.2,10000],"nice":false},"axis":{"title":"Cross Section [mb]","titleFontSize":15,"titlePadding":7,"tickCount":10,"labelExpr":"datum.value == 1 ? '10⁰' : datum.value == 10 ? '10¹' : datum.value == 100 ? '10²' : datum.value == 1000 ? '10³' : datum.value == 10000 ? '10⁴' : ''","labelFontSize":13,"labelOverlap":false,"labelFlush":false,"labelPadding":3,"tickSize":{"condition":{"test":"indexof([1,10,100,1000,10000], datum.value) >= 0","value":5},"value":3}}},
    "color":{"field":"s","type":"nominal","scale":{"domain":["W","M","G","D","Y","O"],"range":["#ff0000","#ff00ff","#228b22","#000000","#ffff00","#e05a3c"]},"legend":null}}},
  {"transform":[{"filter":"datum.s != 'W'"}],"mark":{"type":"line","clip":true},
   "encoding":{
    "x":{"field":"A","type":"quantitative","axis":{"orient":"top","title":null,"labels":false,"tickCount":40,"tickSize":-4,"domain":false}},
    "y":{"field":"v","type":"quantitative","axis":{"orient":"right","title":null,"labels":false,"tickCount":10,"domain":false,"tickSize":{"condition":{"test":"indexof([1,10,100,1000,10000], datum.value) >= 0","value":-5},"value":-3}}},
    "color":{"field":"s","type":"nominal","legend":null},
    "strokeWidth":{"condition":[{"test":"datum.s == 'Y' || datum.s == 'O'","value":4},{"test":"datum.s == 'D'","value":2.6}],"value":1.2}}},
  {"data":{"values":[{}]},"mark":{"type":"text","align":"right","baseline":"middle","fontSize":15,"color":"#222"},
   "encoding":{"x":{"datum":148.2,"type":"quantitative","axis":null},"y":{"datum":3400,"type":"quantitative","axis":null},"text":{"value":"Z=52 (-2p)"}}}
 ],
 "resolve":{"axis":{"x":"independent","y":"independent"}}},
{"width":316,"height":221,"data":{"name":"p53"},
 "layer":[
  {"transform":[{"filter":"datum.s == 'W'"}],"mark":{"type":"point","shape":"square","filled":true,"size":42,"opacity":1,"clip":true},
   "encoding":{
    "x":{"field":"A","type":"quantitative","scale":{"domain":[110,150],"nice":false,"zero":false},"axis":{"title":null,"tickCount":40,"labelExpr":"datum.value % 2 == 0 ? datum.label : ''","labelAngle":60,"labelAlign":"left","labelBaseline":"middle","labelFontSize":12,"labelPadding":14,"labelOverlap":false,"labelFlush":false,"labelBound":false,"tickSize":4}},
    "y":{"field":"v","type":"quantitative","scale":{"type":"log","domain":[0.2,10000],"nice":false},"axis":{"title":"Cross Section [mb]","titleFontSize":15,"titlePadding":7,"tickCount":10,"labelExpr":"datum.value == 1 ? '10⁰' : datum.value == 10 ? '10¹' : datum.value == 100 ? '10²' : datum.value == 1000 ? '10³' : datum.value == 10000 ? '10⁴' : ''","labelFontSize":13,"labelOverlap":false,"labelFlush":false,"labelPadding":3,"tickSize":{"condition":{"test":"indexof([1,10,100,1000,10000], datum.value) >= 0","value":5},"value":3}}},
    "color":{"field":"s","type":"nominal","scale":{"domain":["W","M","G","D","Y","O"],"range":["#ff0000","#ff00ff","#228b22","#000000","#ffff00","#e05a3c"]},"legend":null}}},
  {"transform":[{"filter":"datum.s != 'W'"}],"mark":{"type":"line","clip":true},
   "encoding":{
    "x":{"field":"A","type":"quantitative","axis":{"orient":"top","title":null,"labels":false,"tickCount":40,"tickSize":-4,"domain":false}},
    "y":{"field":"v","type":"quantitative","axis":{"orient":"right","title":null,"labels":false,"tickCount":10,"domain":false,"tickSize":{"condition":{"test":"indexof([1,10,100,1000,10000], datum.value) >= 0","value":-5},"value":-3}}},
    "color":{"field":"s","type":"nominal","legend":null},
    "strokeWidth":{"condition":[{"test":"datum.s == 'Y' || datum.s == 'O'","value":4},{"test":"datum.s == 'D'","value":2.6}],"value":1.2}}},
  {"data":{"values":[{}]},"mark":{"type":"text","align":"right","baseline":"middle","fontSize":15,"color":"#222"},
   "encoding":{"x":{"datum":148.2,"type":"quantitative","axis":null},"y":{"datum":2000,"type":"quantitative","axis":null},"text":{"value":"Z=53 (-1p)"}}}
 ],
 "resolve":{"axis":{"x":"independent","y":"independent"}}},
{"width":316,"height":221,"data":{"name":"p54"},
 "layer":[
  {"transform":[{"filter":"datum.s == 'W'"}],"mark":{"type":"point","shape":"square","filled":true,"size":42,"opacity":1,"clip":true},
   "encoding":{
    "x":{"field":"A","type":"quantitative","scale":{"domain":[110,150],"nice":false,"zero":false},"axis":{"title":null,"tickCount":40,"labelExpr":"datum.value % 2 == 0 ? datum.label : ''","labelAngle":60,"labelAlign":"left","labelBaseline":"middle","labelFontSize":12,"labelPadding":14,"labelOverlap":false,"labelFlush":false,"labelBound":false,"tickSize":4}},
    "y":{"field":"v","type":"quantitative","scale":{"type":"log","domain":[0.2,10000],"nice":false},"axis":{"title":"Cross Section [mb]","titleFontSize":15,"titlePadding":7,"tickCount":10,"labelExpr":"datum.value == 1 ? '10⁰' : datum.value == 10 ? '10¹' : datum.value == 100 ? '10²' : datum.value == 1000 ? '10³' : datum.value == 10000 ? '10⁴' : ''","labelFontSize":13,"labelOverlap":false,"labelFlush":false,"labelPadding":3,"tickSize":{"condition":{"test":"indexof([1,10,100,1000,10000], datum.value) >= 0","value":5},"value":3}}},
    "color":{"field":"s","type":"nominal","scale":{"domain":["W","M","G","D","Y","O"],"range":["#ff0000","#ff00ff","#228b22","#000000","#ffff00","#e05a3c"]},"legend":null}}},
  {"transform":[{"filter":"datum.s != 'W'"}],"mark":{"type":"line","clip":true},
   "encoding":{
    "x":{"field":"A","type":"quantitative","axis":{"orient":"top","title":null,"labels":false,"tickCount":40,"tickSize":-4,"domain":false}},
    "y":{"field":"v","type":"quantitative","axis":{"orient":"right","title":null,"labels":false,"tickCount":10,"domain":false,"tickSize":{"condition":{"test":"indexof([1,10,100,1000,10000], datum.value) >= 0","value":-5},"value":-3}}},
    "color":{"field":"s","type":"nominal","legend":null},
    "strokeWidth":{"condition":[{"test":"datum.s == 'Y' || datum.s == 'O'","value":4},{"test":"datum.s == 'D'","value":2.6}],"value":1.2}}},
  {"data":{"values":[{}]},"mark":{"type":"text","align":"right","baseline":"middle","fontSize":15,"color":"#222"},
   "encoding":{"x":{"datum":148.2,"type":"quantitative","axis":null},"y":{"datum":2000,"type":"quantitative","axis":null},"text":{"value":"Z=54 (0p)"}}}
 ],
 "resolve":{"axis":{"x":"independent","y":"independent"}}},
{"width":316,"height":221,"data":{"name":"p55"},
 "layer":[
  {"transform":[{"filter":"datum.s == 'W'"}],"mark":{"type":"point","shape":"square","filled":true,"size":42,"opacity":1,"clip":true},
   "encoding":{
    "x":{"field":"A","type":"quantitative","scale":{"domain":[110,150],"nice":false,"zero":false},"axis":{"title":null,"tickCount":40,"labelExpr":"datum.value % 2 == 0 ? datum.label : ''","labelAngle":60,"labelAlign":"left","labelBaseline":"middle","labelFontSize":12,"labelPadding":14,"labelOverlap":false,"labelFlush":false,"labelBound":false,"tickSize":4}},
    "y":{"field":"v","type":"quantitative","scale":{"type":"log","domain":[0.2,10000],"nice":false},"axis":{"title":"Cross Section [mb]","titleFontSize":15,"titlePadding":7,"tickCount":10,"labelExpr":"datum.value == 1 ? '10⁰' : datum.value == 10 ? '10¹' : datum.value == 100 ? '10²' : datum.value == 1000 ? '10³' : datum.value == 10000 ? '10⁴' : ''","labelFontSize":13,"labelOverlap":false,"labelFlush":false,"labelPadding":3,"tickSize":{"condition":{"test":"indexof([1,10,100,1000,10000], datum.value) >= 0","value":5},"value":3}}},
    "color":{"field":"s","type":"nominal","scale":{"domain":["W","M","G","D","Y","O"],"range":["#ff0000","#ff00ff","#228b22","#000000","#ffff00","#e05a3c"]},"legend":null}}},
  {"transform":[{"filter":"datum.s != 'W'"}],"mark":{"type":"line","clip":true},
   "encoding":{
    "x":{"field":"A","type":"quantitative","axis":{"orient":"top","title":null,"labels":false,"tickCount":40,"tickSize":-4,"domain":false}},
    "y":{"field":"v","type":"quantitative","axis":{"orient":"right","title":null,"labels":false,"tickCount":10,"domain":false,"tickSize":{"condition":{"test":"indexof([1,10,100,1000,10000], datum.value) >= 0","value":-5},"value":-3}}},
    "color":{"field":"s","type":"nominal","legend":null},
    "strokeWidth":{"condition":[{"test":"datum.s == 'Y' || datum.s == 'O'","value":4},{"test":"datum.s == 'D'","value":2.6}],"value":1.2}}},
  {"data":{"values":[{}]},"mark":{"type":"text","align":"right","baseline":"middle","fontSize":15,"color":"#222"},
   "encoding":{"x":{"datum":148.2,"type":"quantitative","axis":null},"y":{"datum":2000,"type":"quantitative","axis":null},"text":{"value":"Z=55 (+1p)"}}}
 ],
 "resolve":{"axis":{"x":"independent","y":"independent"}}},
{"width":316,"height":221,"data":{"name":"p56"},
 "layer":[
  {"transform":[{"filter":"datum.s == 'W'"}],"mark":{"type":"point","shape":"square","filled":true,"size":42,"opacity":1,"clip":true},
   "encoding":{
    "x":{"field":"A","type":"quantitative","scale":{"domain":[110,150],"nice":false,"zero":false},"axis":{"title":"A","titleFontSize":13,"titleFontWeight":"normal","titlePadding":8,"tickCount":40,"labelExpr":"datum.value % 2 == 0 ? datum.label : ''","labelAngle":60,"labelAlign":"left","labelBaseline":"middle","labelFontSize":12,"labelPadding":16,"labelOverlap":false,"labelFlush":false,"labelBound":false,"tickSize":4}},
    "y":{"field":"v","type":"quantitative","scale":{"type":"log","domain":[0.2,10000],"nice":false},"axis":{"title":"Cross Section [mb]","titleFontSize":15,"titlePadding":7,"tickCount":10,"labelExpr":"datum.value == 1 ? '10⁰' : datum.value == 10 ? '10¹' : datum.value == 100 ? '10²' : datum.value == 1000 ? '10³' : datum.value == 10000 ? '10⁴' : ''","labelFontSize":13,"labelOverlap":false,"labelFlush":false,"labelPadding":3,"tickSize":{"condition":{"test":"indexof([1,10,100,1000,10000], datum.value) >= 0","value":5},"value":3}}},
    "color":{"field":"s","type":"nominal","scale":{"domain":["W","M","G","D","Y","O"],"range":["#ff0000","#ff00ff","#228b22","#000000","#ffff00","#e05a3c"]},"legend":null}}},
  {"transform":[{"filter":"datum.s != 'W'"}],"mark":{"type":"line","clip":true},
   "encoding":{
    "x":{"field":"A","type":"quantitative","axis":{"orient":"top","title":null,"labels":false,"tickCount":40,"tickSize":-4,"domain":false}},
    "y":{"field":"v","type":"quantitative","axis":{"orient":"right","title":null,"labels":false,"tickCount":10,"domain":false,"tickSize":{"condition":{"test":"indexof([1,10,100,1000,10000], datum.value) >= 0","value":-5},"value":-3}}},
    "color":{"field":"s","type":"nominal","legend":null},
    "strokeWidth":{"condition":[{"test":"datum.s == 'Y' || datum.s == 'O'","value":4},{"test":"datum.s == 'D'","value":2.6}],"value":1.2}}},
  {"data":{"values":[{}]},"mark":{"type":"text","align":"right","baseline":"middle","fontSize":15,"color":"#222"},
   "encoding":{"x":{"datum":148.2,"type":"quantitative","axis":null},"y":{"datum":2500,"type":"quantitative","axis":null},"text":{"value":"Z=56 (+2p)"}}}
 ],
 "resolve":{"axis":{"x":"independent","y":"independent"}}},
{"width":316,"height":221,"data":{"name":"p57"},
 "layer":[
  {"transform":[{"filter":"datum.s == 'W'"}],"mark":{"type":"point","shape":"square","filled":true,"size":42,"opacity":1,"clip":true},
   "encoding":{
    "x":{"field":"A","type":"quantitative","scale":{"domain":[110,150],"nice":false,"zero":false},"axis":{"title":"A","titleFontSize":13,"titleFontWeight":"normal","titlePadding":8,"tickCount":40,"labelExpr":"datum.value % 2 == 0 ? datum.label : ''","labelAngle":60,"labelAlign":"left","labelBaseline":"middle","labelFontSize":12,"labelPadding":16,"labelOverlap":false,"labelFlush":false,"labelBound":false,"tickSize":4}},
    "y":{"field":"v","type":"quantitative","scale":{"type":"log","domain":[0.2,10000],"nice":false},"axis":{"title":"Cross Section [mb]","titleFontSize":15,"titlePadding":7,"tickCount":10,"labelExpr":"datum.value == 1 ? '10⁰' : datum.value == 10 ? '10¹' : datum.value == 100 ? '10²' : datum.value == 1000 ? '10³' : datum.value == 10000 ? '10⁴' : ''","labelFontSize":13,"labelOverlap":false,"labelFlush":false,"labelPadding":3,"tickSize":{"condition":{"test":"indexof([1,10,100,1000,10000], datum.value) >= 0","value":5},"value":3}}},
    "color":{"field":"s","type":"nominal","scale":{"domain":["W","M","G","D","Y","O"],"range":["#ff0000","#ff00ff","#228b22","#000000","#ffff00","#e05a3c"]},"legend":null}}},
  {"transform":[{"filter":"datum.s != 'W'"}],"mark":{"type":"line","clip":true},
   "encoding":{
    "x":{"field":"A","type":"quantitative","axis":{"orient":"top","title":null,"labels":false,"tickCount":40,"tickSize":-4,"domain":false}},
    "y":{"field":"v","type":"quantitative","axis":{"orient":"right","title":null,"labels":false,"tickCount":10,"domain":false,"tickSize":{"condition":{"test":"indexof([1,10,100,1000,10000], datum.value) >= 0","value":-5},"value":-3}}},
    "color":{"field":"s","type":"nominal","legend":null},
    "strokeWidth":{"condition":[{"test":"datum.s == 'Y' || datum.s == 'O'","value":4},{"test":"datum.s == 'D'","value":2.6}],"value":1.2}}},
  {"data":{"values":[{}]},"mark":{"type":"text","align":"right","baseline":"middle","fontSize":15,"color":"#222"},
   "encoding":{"x":{"datum":148.2,"type":"quantitative","axis":null},"y":{"datum":2500,"type":"quantitative","axis":null},"text":{"value":"Z=57 (+3p)"}}}
 ],
 "resolve":{"axis":{"x":"independent","y":"independent"}}},
{"width":316,"height":221,"data":{"name":"p58"},
 "layer":[
  {"transform":[{"filter":"datum.s == 'W'"}],"mark":{"type":"point","shape":"square","filled":true,"size":42,"opacity":1,"clip":true},
   "encoding":{
    "x":{"field":"A","type":"quantitative","scale":{"domain":[110,150],"nice":false,"zero":false},"axis":{"title":"A","titleFontSize":13,"titleFontWeight":"normal","titlePadding":8,"tickCount":40,"labelExpr":"datum.value % 2 == 0 ? datum.label : ''","labelAngle":60,"labelAlign":"left","labelBaseline":"middle","labelFontSize":12,"labelPadding":16,"labelOverlap":false,"labelFlush":false,"labelBound":false,"tickSize":4}},
    "y":{"field":"v","type":"quantitative","scale":{"type":"log","domain":[0.2,10000],"nice":false},"axis":{"title":"Cross Section [mb]","titleFontSize":15,"titlePadding":7,"tickCount":10,"labelExpr":"datum.value == 1 ? '10⁰' : datum.value == 10 ? '10¹' : datum.value == 100 ? '10²' : datum.value == 1000 ? '10³' : datum.value == 10000 ? '10⁴' : ''","labelFontSize":13,"labelOverlap":false,"labelFlush":false,"labelPadding":3,"tickSize":{"condition":{"test":"indexof([1,10,100,1000,10000], datum.value) >= 0","value":5},"value":3}}},
    "color":{"field":"s","type":"nominal","scale":{"domain":["W","M","G","D","Y","O"],"range":["#ff0000","#ff00ff","#228b22","#000000","#ffff00","#e05a3c"]},"legend":{"orient":"top-left","offset":14,"title":null,"padding":0,"labelFontSize":10,"labelColor":"#333","labelLimit":300,"rowPadding":0.5,"clipHeight":12,"symbolOffset":8,"labelOffset":12,"symbolSize":144,"labelExpr":"datum.value == 'W' ? '[Wat15]' : datum.value == 'M' ? 'qbf0_CoMD&SMM' : datum.value == 'G' ? 'ygf1_CoMD&SMM' : datum.value == 'D' ? 'DIT&SMM' : datum.value == 'Y' ? 'qbf0_CoMD(E* from DIT)&SMM' : 'ygf1_CoMD(E* from DIT)&SMM'","encode":{"symbols":{"update":{"shape":{"signal":"datum.value == 'W' ? 'square' : 'M-2.6,0H2.6'"},"size":{"signal":"datum.value == 'W' ? 80 : 144"},"fill":{"signal":"datum.value == 'W' ? '#ff0000' : 'transparent'"},"stroke":{"signal":"datum.value == 'M' ? '#ff00ff' : datum.value == 'G' ? '#228b22' : datum.value == 'D' ? '#000000' : datum.value == 'Y' ? '#ffff00' : datum.value == 'O' ? '#e05a3c' : 'transparent'"},"strokeWidth":{"signal":"datum.value == 'W' ? 0 : datum.value == 'D' ? 2.5 : (datum.value == 'Y' || datum.value == 'O') ? 4 : 1.3"},"opacity":{"value":1}}}}}}}},
  {"transform":[{"filter":"datum.s != 'W'"}],"mark":{"type":"line","clip":true},
   "encoding":{
    "x":{"field":"A","type":"quantitative","axis":{"orient":"top","title":null,"labels":false,"tickCount":40,"tickSize":-4,"domain":false}},
    "y":{"field":"v","type":"quantitative","axis":{"orient":"right","title":null,"labels":false,"tickCount":10,"domain":false,"tickSize":{"condition":{"test":"indexof([1,10,100,1000,10000], datum.value) >= 0","value":-5},"value":-3}}},
    "color":{"field":"s","type":"nominal","legend":{"orient":"top-left","offset":14,"title":null,"padding":0,"labelFontSize":10,"labelColor":"#333","labelLimit":300,"rowPadding":0.5,"clipHeight":12,"symbolOffset":8,"labelOffset":12,"symbolSize":144,"labelExpr":"datum.value == 'W' ? '[Wat15]' : datum.value == 'M' ? 'qbf0_CoMD&SMM' : datum.value == 'G' ? 'ygf1_CoMD&SMM' : datum.value == 'D' ? 'DIT&SMM' : datum.value == 'Y' ? 'qbf0_CoMD(E* from DIT)&SMM' : 'ygf1_CoMD(E* from DIT)&SMM'","encode":{"symbols":{"update":{"shape":{"signal":"datum.value == 'W' ? 'square' : 'M-2.6,0H2.6'"},"size":{"signal":"datum.value == 'W' ? 80 : 144"},"fill":{"signal":"datum.value == 'W' ? '#ff0000' : 'transparent'"},"stroke":{"signal":"datum.value == 'M' ? '#ff00ff' : datum.value == 'G' ? '#228b22' : datum.value == 'D' ? '#000000' : datum.value == 'Y' ? '#ffff00' : datum.value == 'O' ? '#e05a3c' : 'transparent'"},"strokeWidth":{"signal":"datum.value == 'W' ? 0 : datum.value == 'D' ? 2.5 : (datum.value == 'Y' || datum.value == 'O') ? 4 : 1.3"},"opacity":{"value":1}}}}}},
    "strokeWidth":{"condition":[{"test":"datum.s == 'Y' || datum.s == 'O'","value":4},{"test":"datum.s == 'D'","value":2.6}],"value":1.2}}},
  {"data":{"values":[{}]},"mark":{"type":"text","align":"right","baseline":"middle","fontSize":15,"color":"#222"},
   "encoding":{"x":{"datum":148.2,"type":"quantitative","axis":null},"y":{"datum":1470,"type":"quantitative","axis":null},"text":{"value":"Z=58 (+4p)"}}}
 ],
 "resolve":{"axis":{"x":"independent","y":"independent"}}}
],
"resolve":{"scale":{"color":"independent"},"legend":{"color":"independent"}},
"config":{
 "font":"Liberation Sans",
 "view":{"stroke":"#000","strokeWidth":1},
 "axis":{"grid":false,"domainColor":"#000","tickColor":"#000","labelColor":"#222","titleColor":"#222","titleFontWeight":"normal","domainWidth":1,"tickWidth":1},
 "legend":{"labelFont":"Liberation Sans"}
}
}
